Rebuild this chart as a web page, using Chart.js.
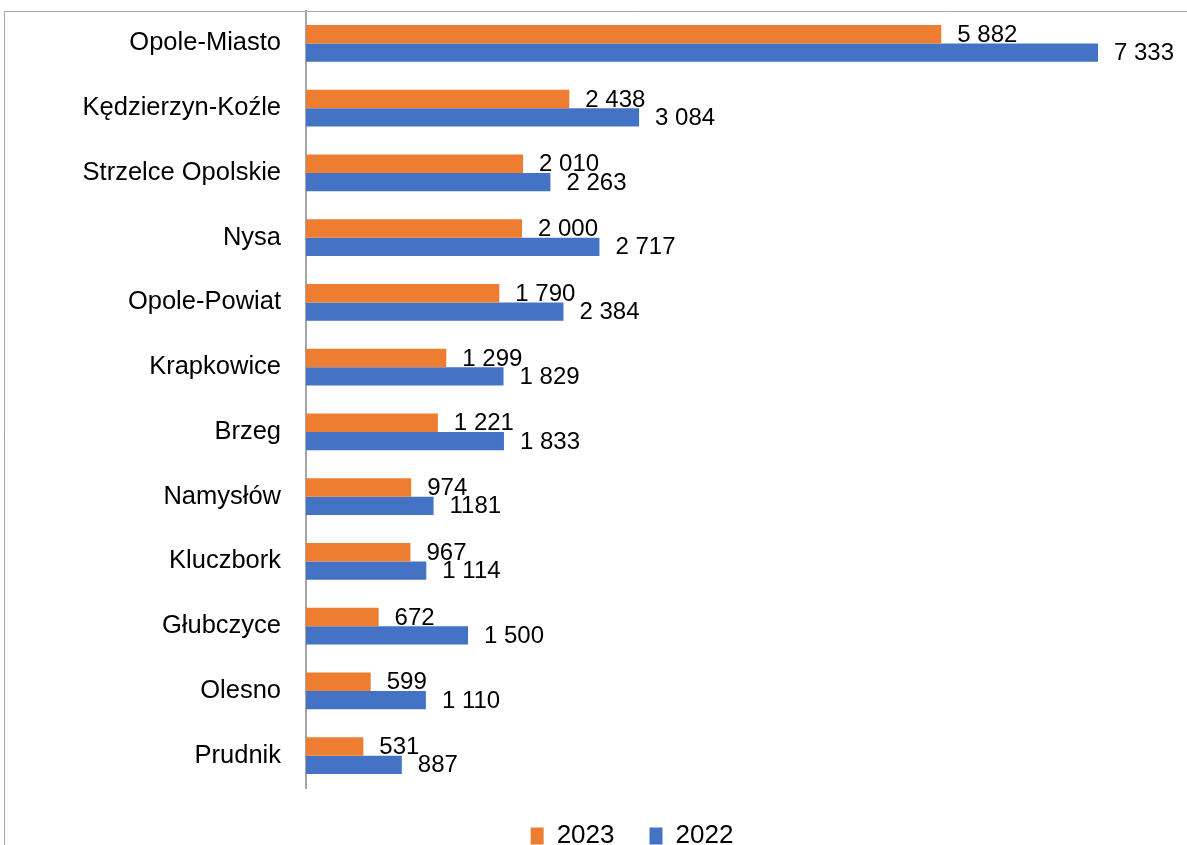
<!DOCTYPE html>
<html>
<head>
<meta charset="utf-8">
<script src="https://cdn.jsdelivr.net/npm/chart.js@4.4.1/dist/chart.umd.min.js"></script>
<style>
html,body{margin:0;padding:0;background:#fff;overflow:hidden;}
#wrap{position:relative;width:1264px;height:859px;}
</style>
</head>
<body>
<div id="wrap"><canvas id="c" width="1264" height="859"></canvas></div>
<script>
const categories = ["Opole-Miasto","Kędzierzyn-Koźle","Strzelce Opolskie","Nysa","Opole-Powiat","Krapkowice","Brzeg","Namysłów","Kluczbork","Głubczyce","Olesno","Prudnik"];
const values2023 = [5882,2438,2010,2000,1790,1299,1221,974,967,672,599,531];
const values2022 = [7333,3084,2263,2717,2384,1829,1833,1181,1114,1500,1110,887];
const labels2023 = ["5 882","2 438","2 010","2 000","1 790","1 299","1 221","974","967","672","599","531"];
const labels2022 = ["7 333","3 084","2 263","2 717","2 384","1 829","1 833","1181","1 114","1 500","1 110","887"];
const seriesNames = ["2023","2022"];
const axisMax = 8870;

const frame = {
  id:'frame',
  beforeDraw(chart){
    const ctx = chart.ctx;
    ctx.save();
    ctx.fillStyle = '#fff';
    ctx.fillRect(0,0,chart.width,chart.height);
    ctx.strokeStyle = '#a6a6a6';
    ctx.lineWidth = 1;
    ctx.beginPath();
    ctx.moveTo(4.5, chart.height);
    ctx.lineTo(4.5, 11.5);
    ctx.lineTo(chart.width, 11.5);
    ctx.stroke();
    ctx.restore();
  }
};
const valueLabels = {
  id:'valueLabels',
  afterDatasetsDraw(chart){
    const ctx = chart.ctx;
    const lbls = [labels2023, labels2022];
    ctx.save();
    ctx.font = '24px "Liberation Sans", Arial, sans-serif';
    ctx.fillStyle = '#000';
    ctx.textBaseline = 'middle';
    ctx.textAlign = 'left';
    chart.data.datasets.forEach((ds, di) => {
      const meta = chart.getDatasetMeta(di);
      meta.data.forEach((el, i) => {
        ctx.fillText(lbls[di][i], el.x + 16, el.y + 1);
      });
    });
    ctx.restore();
  }
};

new Chart(document.getElementById('c'), {
  type:'bar',
  data:{
    labels: categories,
    datasets:[
      {label: seriesNames[0], data: values2023, backgroundColor:'#ED7D31', borderWidth:0},
      {label: seriesNames[1], data: values2022, backgroundColor:'#4472C4', borderWidth:0}
    ]
  },
  options:{
    indexAxis:'y',
    responsive:false,
    animation:false,
    devicePixelRatio:1,
    layout:{padding:{left:0,right:0,top:11,bottom:0}},
    datasets:{bar:{categoryPercentage:0.57, barPercentage:1.0}},
    scales:{
      x:{display:false, min:0, max:axisMax},
      y:{
        afterFit(s){ s.width = 306; s.paddingTop = 0; s.paddingBottom = 0; },
        grid:{display:false, drawTicks:false},
        border:{display:true, color:'#a6a6a6', width:2},
        ticks:{padding:25, color:'#000', font:{size:25.5, family:'"Liberation Sans", Arial, sans-serif'}}
      }
    },
    plugins:{
      legend:{
        position:'bottom',
        labels:{
          boxWidth:13, boxHeight:17, padding:35, color:'#000',
          font:{size:26, lineHeight:0.65, family:'"Liberation Sans", Arial, sans-serif'}
        }
      },
      tooltip:{enabled:false},
      title:{display:false}
    }
  },
  plugins:[frame, valueLabels]
});
</script>
</body>
</html>
